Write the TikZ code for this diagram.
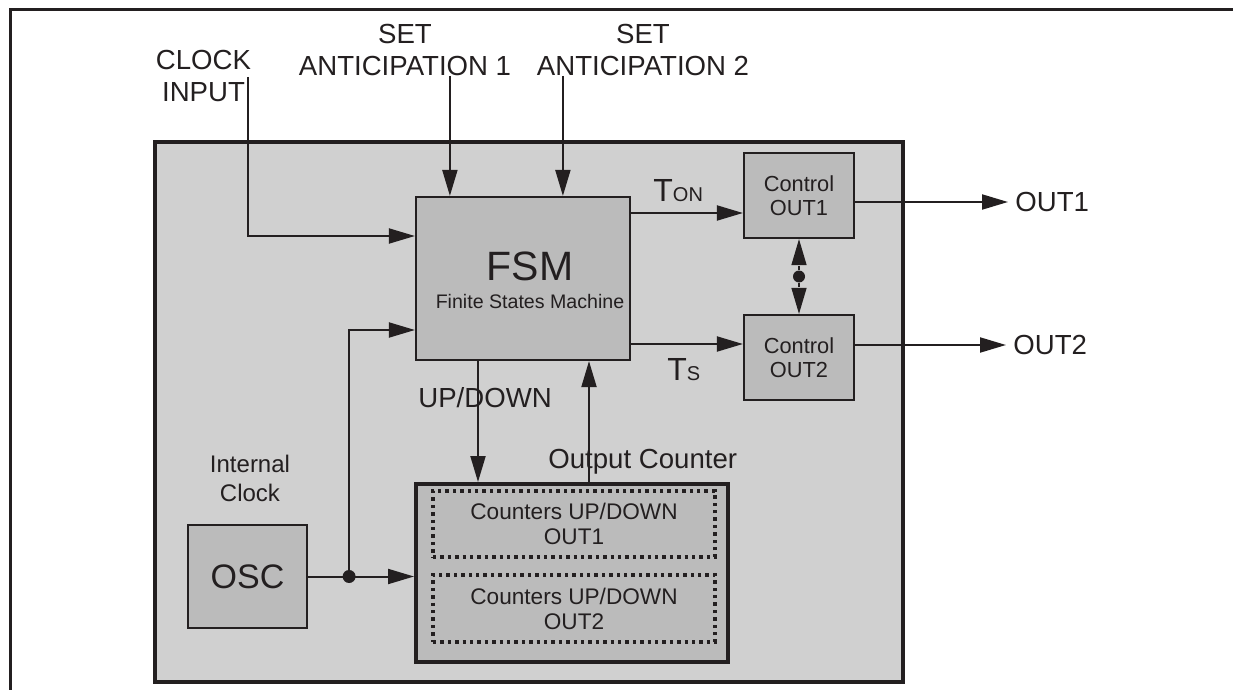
\documentclass[tikz,border=0pt]{standalone}
\usepackage{fontspec}
\setmainfont{Liberation Sans}
\usetikzlibrary{arrows.meta}
\definecolor{sheetink}{HTML}{231F20}
\definecolor{panelgray}{HTML}{D0D0D0}
\definecolor{blockgray}{HTML}{BBBBBB}
\newcommand{\lblfont}{\fontsize{13.8}{16}\selectfont}
\newcommand{\boxfont}{\fontsize{10.9}{12}\selectfont}
\newcommand{\cntfont}{\fontsize{11.3}{12.5}\selectfont}
\newcommand{\clkfont}{\fontsize{12}{14.5}\selectfont}

\begin{document}
\begin{tikzpicture}[
  x=0.5pt,
  y=-0.5pt,
  every node/.style={text=sheetink},
  frame/.style={sheetink, line width=1.5pt},
  panel/.style={draw=sheetink, fill=panelgray, line width=2pt, inner sep=0pt},
  block/.style={draw=sheetink, fill=blockgray, line width=1.1pt, inner sep=0pt, align=center},
  counter/.style={block, line width=2pt},
  slot/.style={draw=sheetink, line width=1.7pt, dash pattern=on 1.7pt off 2pt, inner sep=0pt, align=center},
  conn/.style={sheetink, line width=1pt, -{Triangle[length=13pt, width=7.5pt]}},
  link/.style={conn, line width=0.7pt, dash pattern=on 2pt off 1.5pt},
  dot/.style={circle, fill=sheetink, inner sep=0pt, minimum size=6.5pt},
  lbl/.style={font=\lblfont, inner sep=0pt, align=center}
]
  % ---- page size and the sheet frame ----------------------------------
  \useasboundingbox (0,0) rectangle (1233,690);
  \draw[frame] (10,700) -- (10,10) -- (1250,10);

  % ---- the chip --------------------------------------------------------
  \node[panel, minimum width=374pt, minimum height=270pt] (chip) at (529,412) {};

  % ---- blocks ----------------------------------------------------------
  \node[block, minimum width=107pt, minimum height=81.5pt] (fsm) at (523,278.5) {};
  \node[font=\fontsize{20.5}{24}\selectfont, inner sep=0pt] (fsmname)
    at ([xshift=3.5pt, yshift=6.25pt]fsm.center) {FSM};
  \node[font=\fontsize{9.8}{11}\selectfont, inner sep=0pt] (fsmfull)
    at ([xshift=3.5pt, yshift=-11.5pt]fsm.center) {Finite States Machine};

  \node[block, font=\boxfont, minimum width=55pt, minimum height=42.5pt] (ctl1)
    at (799,195.5) {Control\\OUT1};
  \node[block, font=\boxfont, minimum width=55pt, minimum height=42.5pt] (ctl2)
    at (799,357.5) {Control\\OUT2};

  \node[block, font=\fontsize{17}{20}\selectfont, minimum width=59.5pt, minimum height=51.5pt] (osc)
    at (247.5,576.5) {OSC};

  \node[counter, minimum width=156pt, minimum height=89pt] (counter) at (572,573) {};
  \node[slot, font=\cntfont, minimum width=141pt, minimum height=33pt] (slot1)
    at (574,524) {Counters UP/DOWN\\OUT1};
  \node[slot, font=\cntfont, minimum width=141pt, minimum height=33.5pt] (slot2)
    at (574,608.5) {Counters UP/DOWN\\OUT2};

  % ---- labels ----------------------------------------------------------
  \node[lbl, anchor=south] (clkin) at (203.5,102) {CLOCK\\INPUT};
  \node[lbl, anchor=south] (set1) at (405,76) {SET\\ANTICIPATION 1};
  \node[lbl, anchor=south] (set2) at (643,76) {SET\\ANTICIPATION 2};
  \node[lbl, anchor=base west] (updown) at (418,407) {UP/DOWN};
  \node[lbl, anchor=base west] (outcnt) at (548,468) {Output Counter};
  \node[font=\clkfont, inner sep=0pt, align=center, anchor=south] (intclk)
    at (250,502) {Internal\\Clock};
  \node[inner sep=0pt, anchor=base west] (ton) at (653,202)
    {\fontsize{16}{18}\selectfont T\fontsize{10}{12}\selectfont ON};
  \node[inner sep=0pt, anchor=base west] (ts) at (667,380)
    {\fontsize{16}{18}\selectfont T\fontsize{10}{12}\selectfont S};
  \node[lbl, anchor=west, inner sep=3.5pt] (out1) at (1008,202) {OUT1};
  \node[lbl, anchor=west, inner sep=3.5pt] (out2) at (1006,345) {OUT2};

  % ---- inputs of the FSM -----------------------------------------------
  \coordinate (clktop) at (248,77);
  \coordinate (fsmclkin) at ([yshift=21.25pt]fsm.west);
  \draw[conn] (clktop) |- (fsmclkin);

  \coordinate (fsmset1) at ([xshift=17.5pt]fsm.north west);
  \coordinate (fsmset2) at ([xshift=74pt]fsm.north west);
  \draw[conn] (set1.south -| fsmset1) -- (fsmset1);
  \draw[conn] (set2.south -| fsmset2) -- (fsmset2);

  % ---- internal clock --------------------------------------------------
  \node[dot] (junc) at ([xshift=20.5pt]osc.east) {};
  \draw[conn] (osc.east) -- (osc.east -| counter.west);
  \coordinate (fsmoscin) at ([yshift=-25.75pt]fsm.west);
  \draw[conn] (junc) |- (fsmoscin);

  % ---- FSM <-> counter -------------------------------------------------
  \coordinate (fsmud) at ([xshift=-22.5pt]fsm.south);
  \draw[conn] (fsmud) -- (fsmud |- counter.north);
  \coordinate (cntfb) at ([xshift=8.5pt]counter.north);
  \draw[conn] (cntfb) -- (cntfb |- fsm.south);

  % ---- FSM to control --------------------------------------------------
  \coordinate (fsmon) at ([yshift=32.75pt]fsm.east);
  \coordinate (fsms) at ([yshift=-32.75pt]fsm.east);
  \draw[conn] (fsmon) -- (fsmon -| ctl1.west);
  \draw[conn] (fsms) -- (fsms -| ctl2.west);

  % ---- link between the controls ---------------------------------------
  \node[dot, minimum size=6pt] (ctldot) at (799,276.5) {};
  \draw[link] (ctldot) -- (ctl1.south);
  \draw[link] (ctldot) -- (ctl2.north);

  % ---- outputs ---------------------------------------------------------
  \coordinate (ctl1out) at ([yshift=-3.25pt]ctl1.east);
  \coordinate (ctl2out) at ([yshift=6.25pt]ctl2.east);
  \draw[conn] (ctl1out) -- (out1.west);
  \draw[conn] (ctl2out) -- (out2.west);
\end{tikzpicture}
\end{document}
